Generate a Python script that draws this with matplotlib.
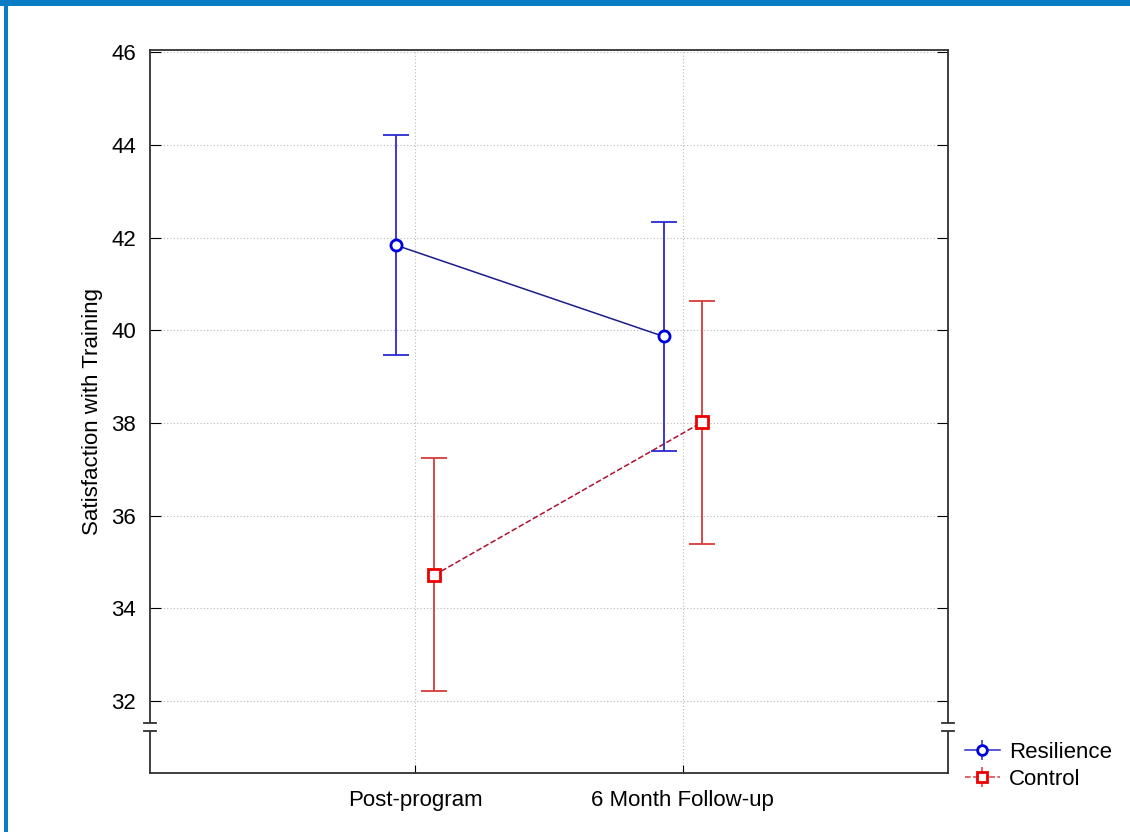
import numpy as np
import matplotlib.pyplot as plt
from matplotlib.patches import Rectangle
from matplotlib.legend_handler import HandlerErrorbar
from matplotlib.container import ErrorbarContainer

plt.rcParams['font.family'] = ['Liberation Sans', 'DejaVu Sans']

# means and 95% interval limits per group
timepoints = ['Post-program', '6 Month Follow-up']
resilience_mean = [41.84, 39.87]
resilience_low = [39.46, 37.39]
resilience_high = [44.21, 42.33]
control_mean = [34.72, 38.02]
control_low = [32.22, 35.39]
control_high = [37.24, 40.63]

fig = plt.figure(figsize=(11.3, 8.32), dpi=100)
ax = fig.add_axes([0.1327, 0.0709, 0.7062, 0.8690])

x = np.arange(len(timepoints))
off = 0.072

def draw_group(xpos, mean, low, high, col, bar_col, line_col, marker, ls, label):
    mean = np.array(mean)
    err = [mean - np.array(low), np.array(high) - mean]
    ax.plot(xpos, mean, color=line_col, ls=ls, lw=1.1, zorder=3)
    ax.errorbar(xpos, mean, yerr=err, fmt='none', ecolor=bar_col, elinewidth=1.3,
                capsize=9.5, capthick=1.3, zorder=4)
    ax.plot(xpos, mean, ls='none', marker=marker, ms=8, mfc='white', mec=col,
            mew=2, zorder=5)
    # proxy handle for the legend
    return ax.errorbar([], [], yerr=[], fmt=marker, ls=ls, color=bar_col, mfc='white',
                       mec=col, mew=2, ms=7, capsize=12, lw=1.1, label=label)

h1 = draw_group(x - off, resilience_mean, resilience_low, resilience_high,
                '#0000dd', '#2a2ad0', '#1c1c8a', 'o', '-', 'Resilience')
h2 = draw_group(x + off, control_mean, control_low, control_high,
                '#ee0000', '#d83a3a', '#b01030', 's', '--', 'Control')

ax.set_xlim(-0.99, 1.99)
ax.set_ylim(30.45, 46.05)
ax.set_xticks(x)
ax.set_xticklabels(timepoints, fontsize=16)
ax.set_yticks(np.arange(32, 47, 2))
ax.tick_params(axis='y', labelsize=16, direction='in', right=True, length=8, pad=10)
ax.tick_params(axis='x', direction='in', length=6, pad=12)
ax.set_ylabel('Satisfaction with Training', fontsize=16, labelpad=6)
ax.grid(True, color='#b8b8b8', ls=(0, (1, 2)), lw=0.8)
ax.set_axisbelow(True)

for s in ax.spines.values():
    s.set_color('#303030')
    s.set_linewidth(1.3)

# axis break marks on both vertical spines
for xs in (0, 1):
    ax.add_patch(Rectangle((xs - 0.006, 31.36), 0.012, 0.17, transform=ax.get_yaxis_transform(),
                           facecolor='white', edgecolor='none', clip_on=False, zorder=6))
    for yb in (31.36, 31.53):
        ax.plot([xs - 0.008, xs + 0.008], [yb, yb], color='#303030', lw=1.3,
                transform=ax.get_yaxis_transform(), clip_on=False, zorder=7)

fig.legend(handles=[h1, h2], loc='lower left', bbox_to_anchor=(0.836, 0.027),
           frameon=False, fontsize=16, handlelength=1.6, handletextpad=0.4,
           labelspacing=0.25,
           handler_map={ErrorbarContainer: HandlerErrorbar(yerr_size=0.45)})

# blue frame along the top and left edge
fig.add_artist(Rectangle((0, 0.993), 1, 0.007, transform=fig.transFigure,
                         facecolor='#0a7cc4', edgecolor='none'))
fig.add_artist(Rectangle((0.0035, 0), 0.0035, 1, transform=fig.transFigure,
                         facecolor='#0a7cc4', edgecolor='none'))

fig.savefig('out.png', dpi=100)
